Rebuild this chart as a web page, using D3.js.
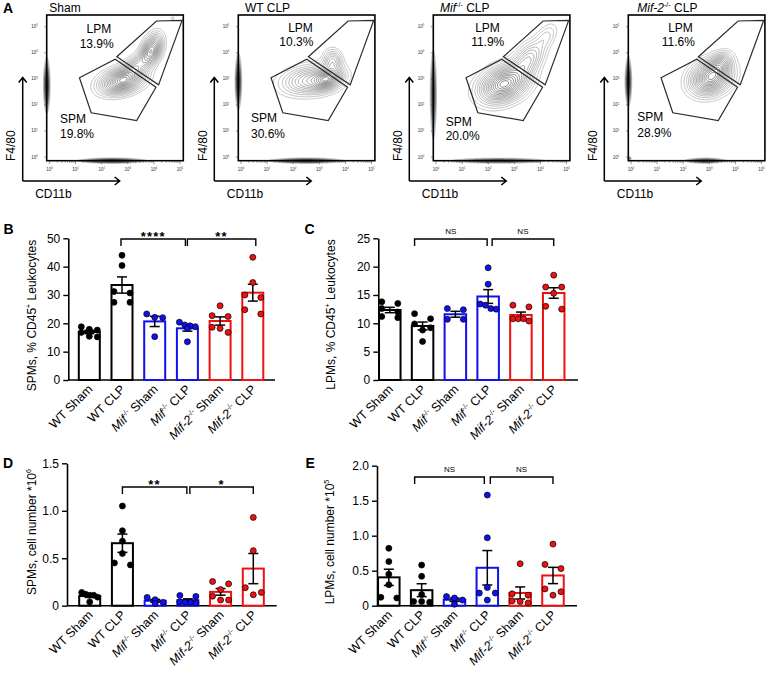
<!DOCTYPE html>
<html><head><meta charset="utf-8">
<script src="https://cdn.jsdelivr.net/npm/d3@7"></script>
<style>
body{margin:0;background:#fff;}
svg{display:block;}
</style></head><body>
<svg id="fig" width="775" height="673"></svg>
<script>
// ================= DATA =================
const groups = ["WT Sham","WT CLP","Mif Sham","Mif CLP","Mif2 Sham","Mif2 CLP"];
const catLabels = [
  [["WT Sham",""]],
  [["WT CLP",""]],
  [["Mif","i"],["-/-","s"],[" Sham",""]],
  [["Mif","i"],["-/-","s"],[" CLP",""]],
  [["Mif-2","i"],["-/-","s"],[" Sham",""]],
  [["Mif-2","i"],["-/-","s"],[" CLP",""]]
];
// Panel B: SPMs, % CD45+ leukocytes (individual animals)
const spmPct = [
  [18.8,17.9,17.6,16.8,15.4,15.2],
  [44.0,40.4,31.2,30.7,27.4,27.4],
  [23.3,22.1,22.0,15.3],
  [20.4,19.4,19.1,18.8,18.2,13.5],
  [26.2,22.7,22.4,18.6,18.2,16.8],
  [43.3,34.4,30.0,29.1,24.8,23.3]
];
// Panel C: LPMs, % CD45+ leukocytes
const lpmPct = [
  [13.8,13.5,12.6,12.0,11.2,11.0],
  [11.7,10.8,9.9,9.2,8.8,6.8],
  [12.6,12.4,10.7,10.7],
  [19.8,16.9,13.4,13.2,12.6,12.5],
  [13.2,12.9,10.8,10.8,10.8,10.4],
  [18.5,16.4,16.4,15.3,13.0,12.5]
];
// Panel D: SPMs, cell number x10^6
const spmCount = [
  [0.14,0.12,0.11,0.11,0.09,0.04],
  [1.05,0.79,0.68,0.55,0.45,0.43],
  [0.087,0.063,0.035,0.024],
  [0.108,0.098,0.04,0.035,0.035,0.03],
  [0.255,0.23,0.17,0.10,0.06,0.06],
  [0.93,0.58,0.19,0.14,0.115]
];
// Panel E: LPMs, cell number x10^5
const lpmCount = [
  [0.82,0.63,0.45,0.30,0.12,0.11],
  [0.58,0.42,0.16,0.06,0.06,0.05],
  [0.13,0.11,0.08,0.02],
  [1.58,0.97,0.26,0.18,0.18,0.08],
  [0.60,0.17,0.15,0.07,0.06,0.04],
  [0.88,0.59,0.53,0.24,0.20,0.15]
];
const ticksB = [0,10,20,30,40,50];
const ticksC = [0,5,10,15,20,25];
const ticksD = [0,0.5,1.0,1.5];
const ticksE = [0,0.5,1.0,1.5,2.0];
const bracketPairs = [[1,3],[3,5]];
const sigB = ["****","**"];
const sigC = ["NS","NS"];
const sigD = ["**","*"];
const sigE = ["NS","NS"];
const titleB = [["SPMs, % CD45",""],["+","s"],[" Leukocytes",""]];
const titleC = [["LPMs, % CD45",""],["+","s"],[" Leukocytes",""]];
const titleD = [["SPMs, cell number *10",""],["6","s"]];
const titleE = [["LPMs, cell number *10",""],["5","s"]];

// Panel A: flow cytometry (log10 units)
const flowTitles = [
  [["Sham",""]],
  [["WT CLP",""]],
  [["Mif","i"],["-/-","s"],[" CLP",""]],
  [["Mif-2","i"],["-/-","s"],[" CLP",""]]
];
const lpmGatePct = ["13.9%","10.3%","11.9%","11.6%"];
const spmGatePct = ["19.8%","30.6%","20.0%","28.9%"];
const gateLPM = [[2.58,3.85],[4.10,5.22],[5.08,5.24],[4.18,2.77]];
const gateSPM = [[2.52,3.75],[4.08,2.68],[3.34,1.40],[1.60,1.70],[1.15,3.04]];
const flowDecades = [0,1,2,3,4,5];
// population density components: [cx, cy, sx, sy, rho, weight]  (log10 CD11b, log10 F4/80)
const popSham = [[2.78,2.92,0.45,0.27,0.3,1.0],[3.9,4.1,0.22,0.32,0.4,0.85],[3.3,3.45,0.4,0.35,0.7,0.45],[4.72,5.32,0.05,0.05,0,0.06]];
const popWT   = [[2.7,2.95,0.6,0.3,0.2,0.7],[3.3,3.0,0.3,0.22,0.3,1.0],[3.5,3.65,0.2,0.25,0.0,0.45]];
const popMif  = [[2.6,2.8,0.5,0.38,0.3,1.0],[3.5,3.7,0.35,0.4,0.5,0.35],[4.2,4.6,0.25,0.3,0.5,0.1]];
const popMif2 = [[3.05,3.05,0.42,0.35,0.2,1.0],[3.4,3.55,0.25,0.25,0.3,0.4]];
// events piled on the axes
const edgeSham = [[-0.1,2.75,0.06,0.45,0,1],[2.4,-0.14,0.55,0.05,0,1]];
const edgeWT   = [[-0.1,2.9,0.06,0.45,0,1],[2.5,-0.14,0.6,0.05,0,1]];
const edgeMif  = [[-0.1,2.4,0.06,0.75,0,0.7],[2.4,-0.14,0.8,0.05,0,0.7]];
const edgeMif2 = [[-0.1,2.9,0.06,0.4,0,1],[2.85,-0.14,0.35,0.05,0,0.8],[-0.05,-0.05,0.04,0.04,0,0.3]];
const flowPops = [popSham, popWT, popMif, popMif2];
const flowEdges = [edgeSham, edgeWT, edgeMif, edgeMif2];

// ================= DRAWING =================
const FONT = "'Liberation Sans', Arial, Helvetica, sans-serif";
const svg = d3.select("#fig").attr("font-family", FONT);
const groupColors = ["#000000","#000000","#1010f0","#1010f0","#f01010","#f01010"];

function rich(textSel, parts, size) {
  let raised = false;
  parts.forEach(([t, st]) => {
    const ts = textSel.append("tspan").text(t);
    if (st === "i") ts.attr("font-style", "italic");
    if (st === "s") {
      ts.attr("font-size", size * 0.6).attr("dy", -size * 0.4);
      raised = true;
    } else if (raised) {
      ts.attr("dy", size * 0.4);
      raised = false;
    }
  });
  return textSel;
}

function panelLetter(t, x, y) {
  svg.append("text").attr("x", x).attr("y", y).attr("font-size", 14)
    .attr("font-weight", "bold").text(t);
}

// ---------- bar panels ----------
function swarm(vals, y, cx) {
  const pts = vals.map(v => ({v, py: y(v)})).sort((a, b) => a.py - b.py);
  const out = [];
  let k = 0;
  while (k < pts.length) {
    const start = pts[k].py, row = [];
    while (k < pts.length && pts[k].py - start < 5.5) { row.push(pts[k]); k++; }
    const n = row.length, s = n > 1 ? 16 / (n - 1) : 0;
    row.forEach((p, i) => { p.px = cx + (i - (n - 1) / 2) * s; out.push(p); });
  }
  return out;
}

function barPanel(p) {
  const g = svg.append("g");
  const y = d3.scaleLinear().domain([0, p.max]).range([p.y0, p.y1]);
  const x = d3.scaleBand().domain(groups).range(p.band).paddingInner(p.pi).paddingOuter(p.pi / 2);
  const bw = x.bandwidth();
  const cx = d => x(d) + bw / 2;

  const ax = g.append("g").attr("transform", `translate(${p.ax},0)`)
    .call(d3.axisLeft(y).tickValues(p.ticks).tickSize(5).tickSizeOuter(0).tickPadding(3).tickFormat(p.fmt));
  ax.attr("font-family", FONT).attr("font-size", 12);
  ax.select(".domain").attr("stroke", "#000").attr("stroke-width", 1.6);
  ax.selectAll(".tick line").attr("stroke", "#000").attr("stroke-width", 1.4);
  ax.selectAll(".tick text").attr("fill", "#000");
  g.append("line").attr("x1", p.ax).attr("x2", p.xEnd).attr("y1", p.y0).attr("y2", p.y0)
    .attr("stroke", "#000").attr("stroke-width", 1.6);

  const stats = p.data.map(v => {
    const m = d3.mean(v), se = d3.deviation(v) / Math.sqrt(v.length);
    return {m, se};
  });
  // bars
  g.selectAll(".bar").data(groups).enter().append("rect")
    .attr("x", d => x(d)).attr("width", bw)
    .attr("y", (d, i) => y(stats[i].m)).attr("height", (d, i) => p.y0 - y(stats[i].m))
    .attr("fill", "#fff").attr("stroke", (d, i) => groupColors[i]).attr("stroke-width", 2);
  // error bars
  groups.forEach((d, i) => {
    const c = cx(d), top = y(stats[i].m + stats[i].se), bot = y(Math.max(0, stats[i].m - stats[i].se));
    const eg = g.append("g").attr("stroke", "#000").attr("stroke-width", 1.5);
    eg.append("line").attr("x1", c).attr("x2", c).attr("y1", top).attr("y2", bot);
    eg.append("line").attr("x1", c - 5).attr("x2", c + 5).attr("y1", top).attr("y2", top);
    eg.append("line").attr("x1", c - 5).attr("x2", c + 5).attr("y1", bot).attr("y2", bot);
  });
  // points
  groups.forEach((d, i) => {
    const pts = swarm(p.data[i], y, cx(d));
    g.selectAll(null).data(pts).enter().append("circle")
      .attr("cx", q => q.px).attr("cy", q => q.py).attr("r", 3)
      .attr("fill", groupColors[i]).attr("stroke", "#000").attr("stroke-width", 0.7);
  });
  // brackets
  bracketPairs.forEach(([a, b], k) => {
    const x1 = cx(groups[a]) + p.bOff[k][0], x2 = cx(groups[b]) + p.bOff[k][1];
    const by = p.bY;
    g.append("path").attr("d", `M${x1},${by + 7}V${by}H${x2}V${by + 7}`)
      .attr("fill", "none").attr("stroke", "#000").attr("stroke-width", 1.4);
    const lab = p.sig[k];
    const isNS = lab === "NS";
    g.append("text").attr("x", (x1 + x2) / 2).attr("y", isNS ? by - 5 : by + 1.5)
      .attr("text-anchor", "middle")
      .attr("font-size", isNS ? 8 : 13).attr("font-weight", isNS ? "normal" : "bold")
      .attr("letter-spacing", isNS ? 0 : 1.2)
      .text(lab);
  });
  // category labels
  groups.forEach((d, i) => {
    const t = g.append("text").attr("text-anchor", "end").attr("font-size", 12.5)
      .attr("transform", `translate(${cx(d) + 4},${p.y0 + 10}) rotate(-45)`);
    rich(t, catLabels[i], 12.5);
  });
  // y title
  const tt = g.append("text").attr("text-anchor", "middle").attr("font-size", 12)
    .attr("transform", `translate(${p.titleX},${p.titleY}) rotate(-90)`);
  rich(tt, p.title, 12);
}

const fmt1 = d => d === 0 ? "0" : d3.format(".1f")(d);
barPanel({data: spmPct, max: 50, ticks: ticksB, fmt: d3.format("d"), y0: 380, y1: 238.3,
  ax: 68.3, xEnd: 275, band: [72.95, 269.15], pi: 0.358, bY: 239,
  bOff: [[-1, -2], [0, 3]], sig: sigB, title: titleB, titleX: 35.5, titleY: 315.5});
barPanel({data: lpmPct, max: 25, ticks: ticksC, fmt: d3.format("d"), y0: 380, y1: 238.3,
  ax: 378.3, xEnd: 578, band: [373.4, 570.1], pi: 0.344, bY: 239,
  bOff: [[-8, -1], [4, 0]], sig: sigC, title: titleC, titleX: 334.5, titleY: 314.5});
barPanel({data: spmCount, max: 1.5, ticks: ticksD, fmt: fmt1, y0: 605.7, y1: 463.3,
  ax: 67, xEnd: 276.7, band: [73.34, 269.66], pi: 0.358, bY: 487,
  bOff: [[0, -1], [2, 0]], sig: sigD, title: titleD, titleX: 35.5, titleY: 532});
barPanel({data: lpmCount, max: 2.0, ticks: ticksE, fmt: fmt1, y0: 605.7, y1: 465.7,
  ax: 377, xEnd: 577, band: [372.4, 569.4], pi: 0.345, bY: 477,
  bOff: [[-7, -3], [3, 0]], sig: sigE, title: titleE, titleX: 334, titleY: 542});

panelLetter("B", 3.5, 233.5);
panelLetter("C", 304.5, 233.5);
panelLetter("D", 3, 467.7);
panelLetter("E", 305.5, 467.7);
panelLetter("A", 3, 13.3);

// ---------- flow plots ----------
const flowX = [46.7, 238.3, 433.3, 628.3];
const FY = 15, FW = 136.6, FH = 145.7;
const flowText = [
  {lpm: [52.1, 32.7], lpct: [50, 47.7], spm: [13.3, 123.3], spct: [13.3, 138.3], title: 2.6},
  {lpm: [62.2, 31.7], lpct: [58, 46.2], spm: [12.7, 122.3], spct: [12.7, 138.3], title: 6.7},
  {lpm: [54.2, 31.7], lpct: [54.4, 45.7], spm: [12.4, 125.7], spct: [12.4, 140], title: 6.7},
  {lpm: [52.2, 31.7], lpct: [50, 45.7], spm: [9, 120.7], spct: [9, 136.7], title: 9}
];

function densityGrid(comps, x0, y0, w, h, res, xs, ys) {
  const n = Math.round(w * res), m = Math.round(h * res);
  const vals = new Float64Array(n * m);
  for (let j = 0; j < m; j++) {
    const ly = Math.log10(ys.invert(y0 + (j + 0.5) / res));
    for (let i = 0; i < n; i++) {
      const lx = Math.log10(xs.invert(x0 + (i + 0.5) / res));
      let s = 0;
      for (const c of comps) {
        const dx = (lx - c[0]) / c[2], dy = (ly - c[1]) / c[3], r = c[4];
        const q = (dx * dx - 2 * r * dx * dy + dy * dy) / (1 - r * r);
        s += c[5] * Math.exp(-q / 2);
      }
      vals[j * n + i] = s;
    }
  }
  return {vals, n, m};
}

function flowPlot(i) {
  const fx = flowX[i];
  const g = svg.append("g");
  const xs = d3.scaleLog().domain([Math.pow(10, -0.103), Math.pow(10, 5.126)]).range([fx, fx + FW]);
  const ys = d3.scaleLog().domain([Math.pow(10, -0.14), Math.pow(10, 5.45)]).range([FY + FH, FY]);
  const res = 2;

  // axis-piled events (filled, blurred)
  {
    const x0 = fx - 8, y0 = FY, w = FW + 8, h = FH + 8;
    const G = densityGrid(flowEdges[i], x0, y0, w, h, res, xs, ys);
    const cs = d3.contours().size([G.n, G.m]).thresholds([0.05, 0.14, 0.26, 0.4, 0.55, 0.7, 0.85])(G.vals);
    const path = d3.geoPath(d3.geoIdentity().scale(1 / res).translate([x0, y0]));
    g.append("g").selectAll("path").data(cs).enter().append("path")
      .attr("d", path).attr("fill", "#111").attr("fill-opacity", 0.25).attr("stroke", "none");
  }
  // population contours
  {
    const G = densityGrid(flowPops[i], fx, FY, FW, FH, res, xs, ys);
    const mx = d3.max(G.vals);
    const rel = [0.025, 0.05, 0.085, 0.125, 0.17, 0.22, 0.28, 0.34, 0.41, 0.48, 0.56, 0.64, 0.72, 0.8, 0.88, 0.95];
    const cs = d3.contours().size([G.n, G.m]).thresholds(rel.map(t => t * mx))(G.vals);
    const path = d3.geoPath(d3.geoIdentity().scale(1 / res).translate([fx, FY]));
    const col = d3.interpolateRgb("#9c9c9c", "#2e2e2e");
    g.append("g").selectAll("path").data(cs).enter().append("path")
      .attr("d", path).attr("fill", "none")
      .attr("stroke", (d, k) => col(k / (cs.length - 1))).attr("stroke-width", 0.6);
  }
  // frame
  g.append("rect").attr("x", fx).attr("y", FY).attr("width", FW).attr("height", FH)
    .attr("fill", "none").attr("stroke", "#000").attr("stroke-width", 1.6);
  // gates
  const line = d3.line().x(d => xs(Math.pow(10, d[0]))).y(d => ys(Math.pow(10, d[1]))).curve(d3.curveLinearClosed);
  [gateLPM, gateSPM].forEach(gt => {
    g.append("path").attr("d", line(gt)).attr("fill", "none").attr("stroke", "#2a2a2a").attr("stroke-width", 1.2);
  });
  // ticks
  const minor = [];
  flowDecades.forEach(dc => { for (let k = 1; k <= 9; k++) { const v = k * Math.pow(10, dc); if (Math.log10(v) <= 5.12) minor.push(v); } });
  g.selectAll(null).data(minor).enter().append("line")
    .attr("x1", d => xs(d)).attr("x2", d => xs(d))
    .attr("y1", FY + FH).attr("y2", d => FY + FH + (Number.isInteger(Math.log10(d)) ? 3.5 : 2))
    .attr("stroke", "#333").attr("stroke-width", 0.5);
  g.selectAll(null).data(flowDecades).enter().append("line")
    .attr("x1", fx).attr("x2", fx - 2.5).attr("y1", d => ys(Math.pow(10, d))).attr("y2", d => ys(Math.pow(10, d)))
    .attr("stroke", "#333").attr("stroke-width", 0.5);
  flowDecades.forEach(dc => {
    const tx = g.append("text").attr("x", xs(Math.pow(10, dc))).attr("y", FY + FH + 10)
      .attr("text-anchor", "middle").attr("font-size", 4.5).attr("fill", "#333");
    rich(tx, [["10", ""], [String(dc), "s"]], 4.5);
    const ty = g.append("text").attr("x", fx - 9).attr("y", ys(Math.pow(10, dc)) + 1.5)
      .attr("text-anchor", "end").attr("font-size", 4.5).attr("fill", "#333");
    rich(ty, [["10", ""], [String(dc), "s"]], 4.5);
  });
  // texts
  const T = flowText[i];
  const tt = g.append("text").attr("x", fx + T.title).attr("y", 11.7).attr("font-size", 12);
  rich(tt, flowTitles[i], 12);
  g.append("text").attr("x", fx + T.lpm[0]).attr("y", T.lpm[1]).attr("text-anchor", "middle").attr("font-size", 12).text("LPM");
  g.append("text").attr("x", fx + T.lpct[0]).attr("y", T.lpct[1]).attr("text-anchor", "middle").attr("font-size", 12).text(lpmGatePct[i]);
  g.append("text").attr("x", fx + T.spm[0]).attr("y", T.spm[1]).attr("font-size", 12).text("SPM");
  g.append("text").attr("x", fx + T.spct[0]).attr("y", T.spct[1]).attr("font-size", 12).text(spmGatePct[i]);
  // arrows
  const axX = fx - 24, axY = 181, topY = 77.5, rightX = fx + 73;
  const ag = g.append("g").attr("fill", "none").attr("stroke", "#000").attr("stroke-width", 1.5);
  ag.append("path").attr("d", `M${axX},${axY}V${topY}M${axX - 4},${topY + 5}L${axX},${topY}L${axX + 4},${topY + 5}`);
  ag.append("path").attr("d", `M${axX},${axY}H${rightX}M${rightX - 5},${axY - 4}L${rightX},${axY}L${rightX - 5},${axY + 4}`);
  g.append("text").attr("text-anchor", "middle").attr("font-size", 12)
    .attr("transform", `translate(${fx - 31.5},145.7) rotate(-90)`).text("F4/80");
  g.append("text").attr("x", fx - 11.5).attr("y", 197.5).attr("font-size", 12).text("CD11b");
}
[0, 1, 2, 3].forEach(flowPlot);
</script>
</body></html>
